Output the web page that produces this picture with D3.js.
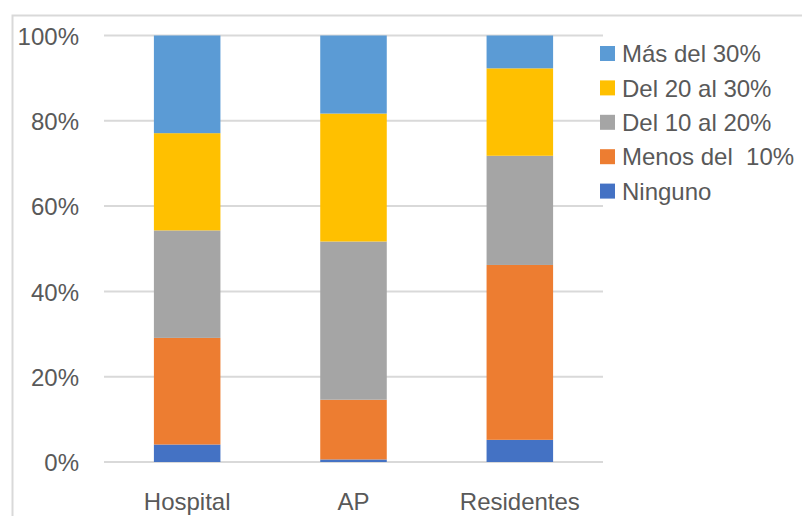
<!DOCTYPE html>
<html>
<head>
<meta charset="utf-8">
<script src="https://cdn.jsdelivr.net/npm/d3@7"></script>
<style>
  html, body { margin: 0; padding: 0; background: #ffffff; }
  svg { display: block; font-family: "Liberation Sans", Arial, sans-serif; }
</style>
</head>
<body>
<svg id="chart" width="802" height="516"></svg>
<script>
// Categories along the x axis
const categories = ["Hospital", "AP", "Residentes"];

// Series, stacked from bottom to top (percent of each group)
const seriesNames = ["Ninguno", "Menos del  10%", "Del 10 al 20%", "Del 20 al 30%", "Más del 30%"];
const ninguno   = [4.1, 0.6, 5.2];
const menos10   = [25.0, 14.0, 41.0];
const del10a20  = [25.2, 37.1, 25.6];
const del20a30  = [22.8, 30.0, 20.5];
const mas30     = [22.9, 18.3, 7.7];
const seriesColors = ["#4472C4", "#ED7D31", "#A5A5A5", "#FFC000", "#5B9BD5"];

// Y tick labels
const yTicks = [0, 20, 40, 60, 80, 100];

const seriesValues = [ninguno, menos10, del10a20, del20a30, mas30];
const rows = categories.map((c, i) => {
  const r = { category: c };
  seriesNames.forEach((s, k) => { r[s] = seriesValues[k][i]; });
  return r;
});

const svg = d3.select("#chart");
const W = 802, H = 516;

// Outer chart frame (top and left edges visible)
svg.append("path")
  .attr("d", `M12.5,${H} L12.5,15.5 L${W},15.5`)
  .attr("fill", "none")
  .attr("stroke", "#d9d9d9")
  .attr("stroke-width", 2);

const plot = { left: 104, right: 603, top: 35.5, bottom: 462 };

const x = d3.scaleBand()
  .domain(categories)
  .range([plot.left, plot.right])
  .paddingInner(0.6)
  .paddingOuter(0.3);

const y = d3.scaleLinear()
  .domain([0, 100])
  .range([plot.bottom, plot.top]);

// Horizontal gridlines
svg.append("g")
  .selectAll("line")
  .data(yTicks)
  .join("line")
  .attr("x1", plot.left)
  .attr("x2", plot.right)
  .attr("y1", d => y(d))
  .attr("y2", d => y(d))
  .attr("stroke", "#d9d9d9")
  .attr("stroke-width", 2);

// Y axis labels
const yAxis = d3.axisLeft(y)
  .tickValues(yTicks)
  .tickFormat(d => d + "%")
  .tickSize(0)
  .tickPadding(0);
const yg = svg.append("g")
  .attr("transform", "translate(79,0)")
  .call(yAxis);
yg.select(".domain").remove();
yg.selectAll("text")
  .attr("fill", "#595959")
  .style("font-size", "24px")
  .attr("dy", "0.36em");

// Stacked bars
const stack = d3.stack().keys(seriesNames);
const stacked = stack(rows);

svg.append("g")
  .selectAll("g")
  .data(stacked)
  .join("g")
  .attr("fill", (d, i) => seriesColors[i])
  .selectAll("rect")
  .data(d => d)
  .join("rect")
  .attr("x", d => x(d.data.category))
  .attr("width", x.bandwidth())
  .attr("y", d => y(d[1]))
  .attr("height", d => y(d[0]) - y(d[1]));

// X axis labels
const xAxis = d3.axisBottom(x).tickSize(0).tickPadding(0);
const xg = svg.append("g")
  .attr("transform", `translate(0,${plot.bottom})`)
  .call(xAxis);
xg.select(".domain").remove();
xg.selectAll("text")
  .attr("fill", "#595959")
  .style("font-size", "24px")
  .attr("y", 48)
  .attr("dy", 0);

// Legend (top series first)
const legendOrder = seriesNames.map((s, i) => ({ name: s, color: seriesColors[i] })).reverse();
const legend = svg.append("g")
  .selectAll("g")
  .data(legendOrder)
  .join("g")
  .attr("transform", (d, i) => `translate(600,${53.5 + i * 34.4})`);
legend.append("rect")
  .attr("x", 0)
  .attr("y", -7.5)
  .attr("width", 15)
  .attr("height", 15)
  .attr("fill", d => d.color);
legend.append("text")
  .attr("x", 22)
  .attr("y", 0)
  .attr("dy", "0.36em")
  .attr("fill", "#595959")
  .style("font-size", "24px")
  .style("white-space", "pre")
  .text(d => d.name);
</script>
</body>
</html>
